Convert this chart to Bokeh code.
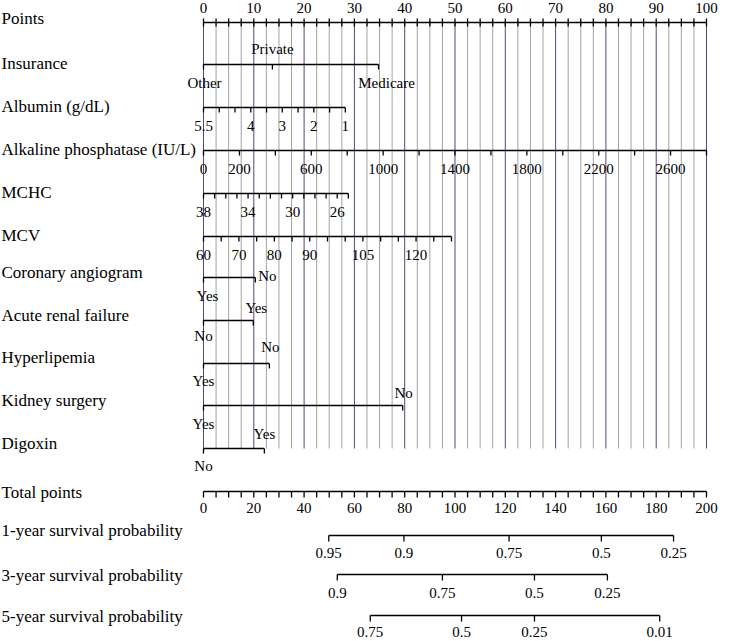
from bokeh.plotting import figure
from bokeh.models import ColumnDataSource, Range1d
from bokeh.core.properties import value
from bokeh.embed import file_html
from bokeh.resources import INLINE

FONT = "Liberation Serif"

# ---------------- data ----------------
row_names = ["Points", "Insurance", "Albumin (g/dL)", "Alkaline phosphatase (IU/L)", "MCHC", "MCV",
             "Coronary angiogram", "Acute renal failure", "Hyperlipemia", "Kidney surgery", "Digoxin",
             "Total points", "1-year survival probability", "3-year survival probability",
             "5-year survival probability"]

points_labels = [0, 10, 20, 30, 40, 50, 60, 70, 80, 90, 100]
points_step = 2.5

insurance_levels = ["Other", "Private", "Medicare"]
insurance_points = [0, 13.7, 34.8]

albumin_range = [5.5, 1.0]
albumin_points = [0, 28.2]
albumin_step = 0.5
albumin_labels = [5.5, 4, 3, 2, 1]

alp_range = [0, 2800]
alp_points = [0, 100]
alp_step = 200
alp_labels = [0, 200, 600, 1000, 1400, 1800, 2200, 2600]

mchc_range = [38, 25]
mchc_points = [0, 28.8]
mchc_step = 1
mchc_labels = [38, 34, 30, 26]

mcv_range = [60, 130]
mcv_points = [0, 49.3]
mcv_step = 5
mcv_labels = [60, 70, 80, 90, 105, 120]

coronary_levels = ["Yes", "No"]
coronary_points = [0, 10.3]
arf_levels = ["No", "Yes"]
arf_points = [0, 9.9]
hyper_levels = ["Yes", "No"]
hyper_points = [0, 13.1]
kidney_levels = ["Yes", "No"]
kidney_points = [0, 39.6]
digoxin_levels = ["No", "Yes"]
digoxin_points = [0, 12.1]

total_max = 200
total_step = 5
total_labels = [0, 20, 40, 60, 80, 100, 120, 140, 160, 180, 200]

surv1_probs = ["0.95", "0.9", "0.75", "0.5", "0.25"]
surv1_total = [49.8, 79.7, 121.5, 158.2, 186.9]
surv3_probs = ["0.9", "0.75", "0.5", "0.25"]
surv3_total = [53.2, 95.0, 131.6, 160.6]
surv5_probs = ["0.75", "0.5", "0.25", "0.01"]
surv5_total = [66.3, 102.6, 131.6, 181.4]

# ---------------- layout (pixel rows) ----------------
W, H = 732, 641
PX = 5.03            # pixels per point
X0 = 203             # canvas x of 0 points
name_y = [18, 63, 106, 149, 192, 235, 272, 315, 357, 400, 443, 492, 530, 575, 616]
line_y = [22, 64, 107, 150, 193, 236, 277, 320, 363, 405, 448, 491, 535, 574, 615]
TICK = 5
LEFT_FS = "17px"
TICK_FS = "15px"

p = figure(width=W, height=H, output_backend="svg", toolbar_location=None,
           x_range=Range1d(-X0 / PX, (W - X0) / PX), y_range=Range1d(H, 0),
           min_border=0, min_border_left=0, min_border_right=0, min_border_top=0, min_border_bottom=0)
p.axis.visible = False
p.grid.visible = False
p.outline_line_color = None
p.background_fill_color = "white"

segs = dict(x0=[], y0=[], x1=[], y1=[])
texts = dict(x=[], y=[], t=[], dx=[])


def seg(x0, y0, x1, y1):
    segs["x0"].append(x0); segs["y0"].append(y0); segs["x1"].append(x1); segs["y1"].append(y1)


def txt(x, y, t, dx=0):
    texts["x"].append(x); texts["y"].append(y); texts["t"].append(t); texts["dx"].append(dx)


def frange(a, b, step):
    out = []
    n = int(round(abs(b - a) / step))
    sgn = 1 if b >= a else -1
    for i in range(n + 1):
        out.append(a + sgn * i * step)
    return out


# gridlines
grid_minor = dict(x0=[], y0=[], x1=[], y1=[])
grid_major = dict(x0=[], y0=[], x1=[], y1=[])
for v in frange(0, 100, points_step):
    g = grid_major if abs(v % 10) < 1e-9 else grid_minor
    g["x0"].append(v); g["x1"].append(v); g["y0"].append(line_y[0]); g["y1"].append(line_y[10])
p.segment(x0="x0", y0="y0", x1="x1", y1="y1", source=ColumnDataSource(grid_minor),
          line_color="#a3a3a3", line_width=1)
p.segment(x0="x0", y0="y0", x1="x1", y1="y1", source=ColumnDataSource(grid_major),
          line_color="#56477a", line_width=1)

# Points axis
y = line_y[0]
seg(0, y, 100, y)
for v in frange(0, 100, points_step):
    seg(v, y - 4, v, y + 4)
for v in points_labels:
    txt(v, y - 15, f"{v:g}")


def cont_axis(rng, pts, step, labels, y):
    def m(v):
        return pts[0] + (v - rng[0]) * (pts[1] - pts[0]) / (rng[1] - rng[0])
    seg(m(rng[0]), y, m(rng[1]), y)
    for v in frange(rng[0], rng[1], step):
        seg(m(v), y, m(v), y + TICK)
    for v in labels:
        txt(m(v), y + 18, f"{v:g}")


cont_axis(albumin_range, albumin_points, albumin_step, albumin_labels, line_y[2])
cont_axis(alp_range, alp_points, alp_step, alp_labels, line_y[3])
cont_axis(mchc_range, mchc_points, mchc_step, mchc_labels, line_y[4])
cont_axis(mcv_range, mcv_points, mcv_step, mcv_labels, line_y[5])


def cat_axis(levels, pts, y, place):
    seg(min(pts), y, max(pts), y)
    for v in pts:
        seg(v, y, v, y + TICK)
    for lev, v, (dy, dx) in zip(levels, pts, place):
        txt(v, y + dy, lev, dx)


cat_axis(insurance_levels, insurance_points, line_y[1], [(18, 1), (-16, 0), (18, 8)])
cat_axis(coronary_levels, coronary_points, line_y[6], [(18, 4), (-2, 12)])
cat_axis(arf_levels, arf_points, line_y[7], [(15, 0), (-13, 3)])
cat_axis(hyper_levels, hyper_points, line_y[8], [(17, 0), (-17, 1)])
cat_axis(kidney_levels, kidney_points, line_y[9], [(18, 0), (-13, 1)])
cat_axis(digoxin_levels, digoxin_points, line_y[10], [(17, 0), (-15, 0)])

# Total points axis (0..200 mapped onto the 0..100 points span)
tscale = 100 / total_max
y = line_y[11]
seg(0, y, total_max * tscale, y)
for v in frange(0, total_max, total_step):
    seg(v * tscale, y, v * tscale, y + TICK + 1)
for v in total_labels:
    txt(v * tscale, y + 16, f"{v:g}")


def surv_axis(probs, totals, y, dy):
    seg(min(totals) * tscale, y, max(totals) * tscale, y)
    for pr, t in zip(probs, totals):
        seg(t * tscale, y, t * tscale, y + TICK + 1)
        txt(t * tscale, y + dy, pr)


surv_axis(surv1_probs, surv1_total, line_y[12], 17)
surv_axis(surv3_probs, surv3_total, line_y[13], 18)
surv_axis(surv5_probs, surv5_total, line_y[14], 16)

p.segment(x0="x0", y0="y0", x1="x1", y1="y1", source=ColumnDataSource(segs),
          line_color="black", line_width=1.3)
p.text(x="x", y="y", text="t", x_offset="dx", source=ColumnDataSource(texts),
       text_font=value(FONT), text_font_size=TICK_FS, text_align="center",
       text_baseline="middle", text_color="black")

# row names on the left
xl = -X0 / PX + 1 / PX
p.text(x=[xl] * len(row_names), y=name_y, text=row_names,
       text_font=value(FONT), text_font_size=LEFT_FS, text_align="left",
       text_baseline="middle", text_color="black")

open("out.html", "w").write(file_html(p, INLINE))
